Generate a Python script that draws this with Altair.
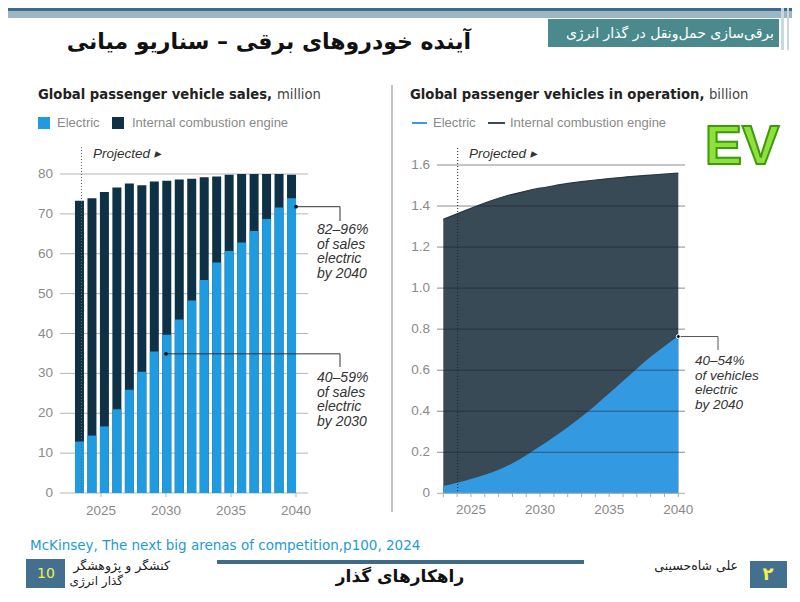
import altair as alt
import pandas as pd

# ---------------- data ----------------
years_sales = list(range(2023, 2041))
sales_electric = [12.9, 14.4, 16.7, 21.0, 25.9, 30.4, 35.5, 39.7, 43.5, 48.3,
                  53.4, 57.8, 60.7, 62.8, 65.7, 68.7, 71.6, 73.9]
sales_total = [73.3, 73.9, 75.5, 76.6, 77.6, 77.2, 78.1, 78.3, 78.6, 78.8,
               79.2, 79.4, 79.8, 80.0, 80.0, 80.0, 80.0, 79.8]

years_fleet = list(range(2023, 2041))
fleet_total = [1.335, 1.362, 1.389, 1.415, 1.438, 1.457, 1.473, 1.487, 1.499, 1.51,
               1.519, 1.527, 1.534, 1.54, 1.546, 1.551, 1.556, 1.56]
fleet_electric = [0.035, 0.052, 0.07, 0.09, 0.115, 0.147, 0.186, 0.229, 0.274, 0.322,
                  0.373, 0.428, 0.487, 0.547, 0.607, 0.665, 0.717, 0.765]

sales_ticks = [0, 10, 20, 30, 40, 50, 60, 70, 80]
fleet_ticks = [0, 0.2, 0.4, 0.6, 0.8, 1.0, 1.2, 1.4, 1.6]
fleet_tick_labels = ["0", "0.2", "0.4", "0.6", "0.8", "1.0", "1.2", "1.4", "1.6"]
year_labels = [2025, 2030, 2035, 2040]

# ---------------- helpers ----------------
EN = "Liberation Sans"
ENW = "DejaVu Sans"
FA = "DejaVu Sans"


def P(v):
    return v - 8


one = pd.DataFrame({"a": [0]})

LX = alt.Scale(domain=[2022, 2041], range=[P(62), P(309)], nice=False, zero=False)
LY = alt.Scale(domain=[0, 80], range=[P(493), P(174)], nice=False, zero=False)
RX = alt.Scale(domain=[2023, 2040], range=[P(443.3), P(678.3)], nice=False, zero=False)
RY = alt.Scale(domain=[0, 1.6], range=[P(493.3), P(165)], nice=False, zero=False)


def txt(text, x, y, size=13, color="#333", weight="normal", style="normal",
        align="left", font=EN, baseline="middle"):
    return alt.Chart(one).mark_text(
        text=text, align=align, baseline=baseline, fontSize=size, color=color,
        fontWeight=weight, fontStyle=style, font=font
    ).encode(x=alt.value(P(x)), y=alt.value(P(y)))


def rect(x1, x2, y1, y2, color):
    return alt.Chart(one).mark_rect(color=color).encode(
        x=alt.value(P(x1)), x2=alt.value(P(x2)), y=alt.value(P(y1)), y2=alt.value(P(y2)))


def rule(x1, x2, y1, y2, color, width=1, dash=None):
    kw = dict(color=color, strokeWidth=width)
    if dash:
        kw["strokeDash"] = dash
    return alt.Chart(one).mark_rule(**kw).encode(
        x=alt.value(P(x1)), x2=alt.value(P(x2)), y=alt.value(P(y1)), y2=alt.value(P(y2)))


layers = []

# ---------------- slide decorations ----------------
layers += [
    rect(0, 800, 0, 11, "#3f6b8b"),
    rect(0, 800, 11, 18, "#9db7c2"),
    rect(548, 779, 19, 47, "#4a8a8d"),
    rect(781, 784, 8, 50, "#c9d8de"),
    rect(787, 789, 8, 50, "#c9d8de"),
    txt("برقی‌سازی حمل‌ونقل در گذار انرژی", 774, 34, size=14, color="white", align="right", font=FA),
    txt("آینده خودروهای برقی – سناریو میانی", 471, 42, size=22, color="#111", weight="bold", align="right", font=FA),
    rule(392, 392, 85, 512, "#c6c6c6", width=2),
]

# ---------------- left chart: sales ----------------
sales_df = pd.DataFrame({"year": years_sales, "electric": sales_electric, "total": sales_total})
lt_df = pd.DataFrame({"v": sales_ticks})
lx_df = pd.DataFrame({"year": year_labels})

layers += [
    txt("Global passenger vehicle sales,", 38, 95, size=13.2, color="#222", weight="bold", font=ENW),
    txt("million", 277, 95, size=13.2, color="#444", font=ENW),
    rect(38, 50, 117, 129, "#1f9be0"),
    txt("Electric", 57, 123, size=13, color="#8a8a8a"),
    rect(112, 124, 117, 129, "#0f3145"),
    txt("Internal combustion engine", 132, 123, size=13, color="#8a8a8a"),
    # gridlines
    alt.Chart(lt_df).mark_rule(color="#b5b5b5", strokeWidth=1).encode(
        y=alt.Y("v:Q", scale=LY, axis=None), x=alt.value(P(60)), x2=alt.value(P(308))),
    alt.Chart(lt_df).mark_text(align="right", baseline="middle", fontSize=13.5, color="#8a8a8a", font=EN).encode(
        y=alt.Y("v:Q", scale=LY, axis=None), x=alt.value(P(53)), text="v:Q"),
    # x ticks / labels
    alt.Chart(lx_df).mark_rule(color="#b5b5b5").encode(
        x=alt.X("year:Q", scale=LX, axis=None), y=alt.value(P(493)), y2=alt.value(P(497))),
    alt.Chart(lx_df).mark_text(align="center", baseline="middle", fontSize=13.5, color="#8a8a8a", font=EN).encode(
        x=alt.X("year:Q", scale=LX, axis=None), y=alt.value(P(511)), text="year:Q"),
    # bars
    alt.Chart(sales_df).mark_bar(width=9, color="#0f3145").encode(
        x=alt.X("year:Q", scale=LX, axis=None), y=alt.Y("total:Q", scale=LY, axis=None), y2=alt.datum(0)),
    alt.Chart(sales_df).mark_bar(width=9, color="#1f9be0").encode(
        x=alt.X("year:Q", scale=LX, axis=None), y=alt.Y("electric:Q", scale=LY, axis=None), y2=alt.datum(0)),
    # projected
    rule(81.5, 81.5, 147, 493, "#666", width=1, dash=[1, 2]),
    txt("Projected ▸", 93, 154, size=13.5, color="#333", style="italic"),
]

ann_left = pd.DataFrame({"year": [2040, 2030], "v": [71.8, 34.9]})
layers += [
    alt.Chart(ann_left).mark_rule(color="#333").encode(
        x=alt.X("year:Q", scale=LX, axis=None), x2=alt.value(P(340)), y=alt.Y("v:Q", scale=LY, axis=None)),
    alt.Chart(ann_left.iloc[[0]]).mark_rule(color="#333").encode(
        x=alt.value(P(340)), y=alt.Y("v:Q", scale=LY, axis=None), y2=alt.value(P(221))),
    alt.Chart(ann_left.iloc[[1]]).mark_rule(color="#333").encode(
        x=alt.value(P(340)), y=alt.Y("v:Q", scale=LY, axis=None), y2=alt.value(P(367))),
    alt.Chart(ann_left).mark_circle(color="#111", size=14, opacity=1).encode(
        x=alt.X("year:Q", scale=LX, axis=None), y=alt.Y("v:Q", scale=LY, axis=None)),
]
for i, line in enumerate(["82–96%", "of sales", "electric", "by 2040"]):
    layers.append(txt(line, 317, 230 + i * 14.6, size=14, color="#333", style="italic"))
for i, line in enumerate(["40–59%", "of sales", "electric", "by 2030"]):
    layers.append(txt(line, 317, 378 + i * 14.5, size=14, color="#333", style="italic"))

# ---------------- right chart: fleet ----------------
fleet_df = pd.DataFrame({"year": years_fleet, "electric": fleet_electric, "total": fleet_total})
rt_df = pd.DataFrame({"v": fleet_ticks, "label": fleet_tick_labels})
rx_df = pd.DataFrame({"year": year_labels})
ryears_df = pd.DataFrame({"year": years_fleet})

layers += [
    txt("Global passenger vehicles in operation,", 410, 95, size=13.2, color="#222", weight="bold", font=ENW),
    txt("billion", 709, 95, size=13.2, color="#444", font=ENW),
    rule(412, 427, 123, 123, "#3a9be0", width=2),
    txt("Electric", 433, 123, size=13, color="#8a8a8a"),
    rule(488, 505, 123, 123, "#394a57", width=2),
    txt("Internal combustion engine", 510, 123, size=13, color="#8a8a8a"),
    # areas
    alt.Chart(fleet_df).mark_area(color="#394a57", interpolate="natural").encode(
        x=alt.X("year:Q", scale=RX, axis=None), y=alt.Y("total:Q", scale=RY, axis=None), y2=alt.datum(0)),
    alt.Chart(fleet_df).mark_line(color="#2a3742", strokeWidth=1.2, interpolate="natural").encode(
        x=alt.X("year:Q", scale=RX, axis=None), y=alt.Y("total:Q", scale=RY, axis=None)),
    alt.Chart(fleet_df).mark_area(color="#3399e0", interpolate="natural").encode(
        x=alt.X("year:Q", scale=RX, axis=None), y=alt.Y("electric:Q", scale=RY, axis=None), y2=alt.datum(0)),
    # gridlines on top
    alt.Chart(rt_df[rt_df.v > 0]).mark_rule(color="#151c22", strokeWidth=1, opacity=0.5).encode(
        y=alt.Y("v:Q", scale=RY, axis=None), x=alt.value(P(437)), x2=alt.value(P(685))),
    alt.Chart(rt_df).mark_text(align="right", baseline="middle", fontSize=13.5, color="#8a8a8a", font=EN).encode(
        y=alt.Y("v:Q", scale=RY, axis=None), x=alt.value(P(430)), text="label:N"),
    rule(437, 685, 493.3, 493.3, "#aaaaaa", width=1),
    alt.Chart(ryears_df).mark_rule(color="#aaaaaa").encode(
        x=alt.X("year:Q", scale=RX, axis=None), y=alt.value(P(493.3)), y2=alt.value(P(497))),
    alt.Chart(rx_df).mark_text(align="center", baseline="middle", fontSize=13.5, color="#8a8a8a", font=EN).encode(
        x=alt.X("year:Q", scale=RX, axis=None), y=alt.value(P(510)), text="year:Q"),
    # projected
    rule(457.7, 457.7, 148, 493, "#222", width=1, dash=[1, 2]),
    txt("Projected ▸", 469, 154, size=13.5, color="#333", style="italic"),
]

ann_right = pd.DataFrame({"year": [2040], "v": [0.764]})
layers += [
    alt.Chart(ann_right).mark_rule(color="#555").encode(
        x=alt.X("year:Q", scale=RX, axis=None), x2=alt.value(P(718)), y=alt.Y("v:Q", scale=RY, axis=None)),
    alt.Chart(ann_right).mark_rule(color="#555").encode(
        x=alt.value(P(718)), y=alt.Y("v:Q", scale=RY, axis=None), y2=alt.value(P(350))),
    alt.Chart(ann_right).mark_circle(color="#111", size=16, opacity=1, stroke="white", strokeWidth=1).encode(
        x=alt.X("year:Q", scale=RX, axis=None), y=alt.Y("v:Q", scale=RY, axis=None)),
]
for i, line in enumerate(["40–54%", "of vehicles", "electric", "by 2040"]):
    layers.append(txt(line, 695, 361 + i * 14.5, size=13.5, color="#333", style="italic"))

# EV logo
layers += [
    alt.Chart(one).mark_text(text="EV", align="center", baseline="middle", fontSize=56, font="Liberation Sans",
                             fontWeight="bold", color="#8ee03a", stroke="#3d9a0c",
                             strokeWidth=2).encode(x=alt.value(P(742)), y=alt.value(P(147))),
]

# ---------------- footer ----------------
layers += [
    txt("McKinsey, The next big arenas of competition,p100, 2024", 30, 546, size=13.5, color="#1e9ad8", font=FA),
    rect(26, 65, 559, 590, "#44708f"),
    txt("10", 46, 574, size=14, color="#f2f24a", align="center", font=FA),
    txt("کنشگر و پژوهشگر", 170, 566, size=12.5, color="#222", align="right", font=FA),
    txt("گذار انرژی", 123, 581, size=12, color="#222", align="right", font=FA),
    rule(217, 584, 562, 562, "#3f6b8b", width=4),
    txt("راهکارهای گذار", 400, 577, size=17, color="#111", weight="bold", align="center", font=FA),
    txt("علی شاه‌حسینی", 738, 566, size=12.5, color="#222", align="right", font=FA),
    rect(750, 787, 561, 590, "#44708f"),
    txt("۲", 768, 575, size=18, color="#f2f24a", align="center", weight="bold", font=FA),
]

chart = alt.layer(*layers).resolve_scale(x="independent", y="independent").properties(
    width=784, height=580, padding=0, autosize="none", background="white"
).configure_view(stroke=None)

chart.save("out.html", embed_options={"renderer": "svg", "actions": False})
